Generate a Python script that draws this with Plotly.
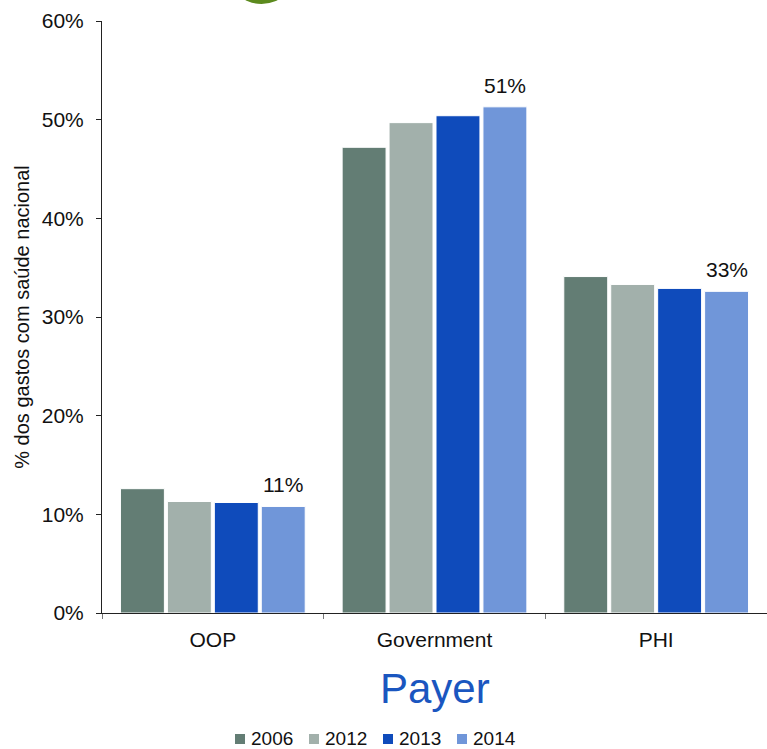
import plotly.graph_objects as go

categories = ["OOP", "Government", "PHI"]
years = ["2006", "2012", "2013", "2014"]
values_2006 = [12.6, 47.2, 34.1]
values_2012 = [11.3, 49.7, 33.3]
values_2013 = [11.2, 50.4, 32.9]
values_2014 = [10.8, 51.3, 32.6]
label_2014 = ["11%", "51%", "33%"]
colors = ["#637d74", "#a2b0ab", "#0f4bbb", "#7096d9"]

series = [values_2006, values_2012, values_2013, values_2014]

W, H = 767, 749
ML, MR, MT, MB = 102, 0, 21, 136
BARGAP = 0.153
fig = go.Figure()
for yr, vals, col in zip(years, series, colors):
    fig.add_trace(go.Bar(
        x=categories, y=vals, name=yr, showlegend=False,
        marker=dict(color=col, line=dict(color="white", width=1)),
    ))

plot_w = W - ML - MR
plot_h = H - MT - MB
slot = plot_w / len(categories) * (1 - BARGAP) / len(years)
shift = slot * (len(years) - 1) / 2

def px_x(px):
    return (px - ML) / plot_w

def px_y(py):
    return (H - MB - py) / plot_h

for cat, v, t in zip(categories, values_2014, label_2014):
    fig.add_annotation(x=cat, y=v, xref="x", yref="y", text=t, showarrow=False,
                       xshift=shift, yshift=8, yanchor="bottom",
                       font=dict(size=21, color="#111111"))

fig.add_annotation(x=0.5, y=-0.128, xref="paper", yref="paper", text="Payer",
                   showarrow=False, yanchor="middle",
                   font=dict(size=42, color="#1a56c0"))

# legend (manual, compact like the reference)
LEG_X0, LEG_STEP, LEG_Y = 235, 74, 739
for i, (yr, col) in enumerate(zip(years, colors)):
    x0 = LEG_X0 + i * LEG_STEP
    fig.add_shape(type="rect", xref="paper", yref="paper",
                  x0=px_x(x0), x1=px_x(x0 + 10), y0=px_y(LEG_Y + 5), y1=px_y(LEG_Y - 5),
                  fillcolor=col, line=dict(width=0))
    fig.add_annotation(x=px_x(x0 + 14), y=px_y(LEG_Y), xref="paper", yref="paper",
                       text=yr, showarrow=False, xanchor="left", yanchor="middle",
                       font=dict(size=19, color="#111111"))

# partial green logo peeking in at the top edge
fig.add_shape(type="circle", xref="paper", yref="paper",
              x0=px_x(226), x1=px_x(297), y0=px_y(4), y1=px_y(-68),
              fillcolor="#5c8a1e", line=dict(width=0), layer="above")

fig.update_layout(
    width=W, height=H,
    margin=dict(l=ML, r=MR, t=MT, b=MB, pad=0, autoexpand=False),
    paper_bgcolor="white", plot_bgcolor="white",
    font=dict(family="Liberation Sans, Arial, sans-serif", size=21, color="#111111"),
    barmode="group", bargap=BARGAP, bargroupgap=0.064,
    showlegend=False,
    xaxis=dict(showline=True, linecolor="#222222", linewidth=1,
               ticks="outside", tickson="boundaries", ticklen=5, tickcolor="#777777",
               showgrid=False, tickfont=dict(size=21), ticklabelstandoff=8),
    yaxis=dict(range=[0, 60], dtick=10, ticksuffix="%", showline=True,
               linecolor="#222222", linewidth=1, ticks="outside", ticklen=5,
               tickcolor="#222222", showgrid=False, zeroline=False,
               tickfont=dict(size=21), ticklabelstandoff=8,
               title=dict(text="% dos gastos com saúde nacional", font=dict(size=20),
                          standoff=6)),
)

fig.write_html("out.html")
